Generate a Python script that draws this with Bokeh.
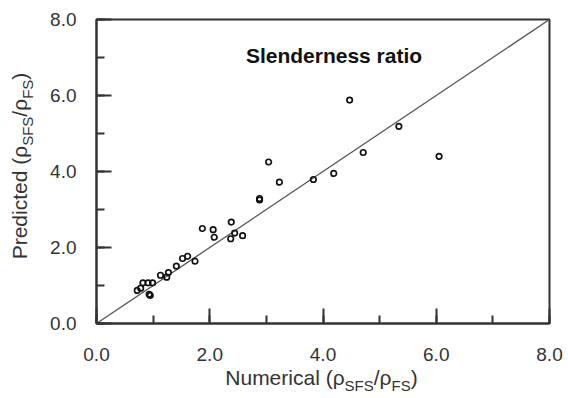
from bokeh.plotting import figure
from bokeh.models import Range1d, SingleIntervalTicker, PrintfTickFormatter, Label, Div
from bokeh.layouts import row, column
from bokeh.embed import file_html
from bokeh.resources import INLINE

# ---- data ----
numerical = [0.72, 0.78, 0.82, 0.91, 0.99, 0.93, 0.95, 1.13, 1.24, 1.27,
             1.41, 1.52, 1.61, 1.74, 1.87, 2.06, 2.08, 2.38, 2.37, 2.44,
             2.58, 2.88, 2.88, 3.04, 3.23, 3.83, 4.19, 4.71, 4.47, 5.34, 6.05]
predicted = [0.87, 0.93, 1.07, 1.07, 1.07, 0.77, 0.74, 1.27, 1.22, 1.34,
             1.51, 1.71, 1.77, 1.64, 2.50, 2.47, 2.27, 2.67, 2.23, 2.38,
             2.31, 3.29, 3.25, 4.25, 3.72, 3.79, 3.95, 4.50, 5.88, 5.19, 4.40]
diag_x = [0.0, 8.0]
diag_y = [0.0, 8.0]
axis_min, axis_max = 0.0, 8.0
title_text = "Slenderness ratio"
x_label_main = ["Numerical (ρ", "/ρ", ")"]
y_label_main = ["Predicted (ρ", "/ρ", ")"]
label_subs = ["SFS", "FS"]

FONT = "Liberation Sans"
YDIV_W = 40
L, R, T, B = 96, 19, 19, 46
FW, FH = 453, 304
P_H = T + FH + B  # 369

p = figure(frame_width=FW, frame_height=FH, output_backend="svg", toolbar_location=None,
           x_range=Range1d(axis_min, axis_max), y_range=Range1d(axis_min, axis_max),
           min_border_left=L - YDIV_W, min_border_right=R, min_border_top=T,
           min_border_bottom=B, margin=0)
p.xgrid.visible = False
p.ygrid.visible = False
p.outline_line_color = "#333333"
p.outline_line_width = 2
p.background_fill_color = "white"
p.border_fill_color = "white"

for ax in (p.xaxis[0], p.yaxis[0]):
    ax.ticker = SingleIntervalTicker(interval=2, num_minor_ticks=2)
    ax.formatter = PrintfTickFormatter(format="%.1f")
    ax.major_tick_in = 15
    ax.major_tick_out = 0
    ax.minor_tick_in = 8
    ax.minor_tick_out = 0
    ax.axis_line_color = "#333333"
    ax.axis_line_width = 2
    ax.major_tick_line_color = "#333333"
    ax.major_tick_line_width = 2
    ax.minor_tick_line_color = "#333333"
    ax.minor_tick_line_width = 2
    ax.major_label_text_font = FONT
    ax.major_label_text_font_size = "19px"
    ax.major_label_text_color = "#333333"
p.xaxis[0].major_label_standoff = 24
p.yaxis[0].major_label_standoff = 20

p.line(diag_x, diag_y, line_color="#555555", line_width=1.3)
p.scatter(numerical, predicted, marker="circle", size=5.5, fill_color=None,
          line_color="#111111", line_width=1.7)

def dx(px):
    return (px - L) / (FW / (axis_max - axis_min)) + axis_min

def dy(py):
    return (T + FH - py) / (FH / (axis_max - axis_min)) + axis_min

p.add_layout(Label(x=dx(333.5), y=dy(55), text=title_text, text_font=FONT,
                   text_font_size="21px", text_font_style="bold", text_align="center",
                   text_baseline="alphabetic", text_color="#111111"))

SUB_STYLE = "font-size:15px; vertical-align:-6px;"

def rich(main, subs):
    return (f"{main[0]}<span style='{SUB_STYLE}'>{subs[0]}</span>{main[1]}"
            f"<span style='{SUB_STYLE}'>{subs[1]}</span>{main[2]}")

BASE = f"font-family:'{FONT}'; font-size:21px; line-height:20px; color:#333333; white-space:nowrap;"

# y label: rotated, reading bottom-to-top, baseline at x~27, centred at y~166
ytext = (f"<div style='position:relative; width:{YDIV_W}px; height:{P_H}px;'>"
         f"<div style=\"position:absolute; left:10px; top:266px; width:200px; text-align:center;"
         f" transform-origin:0 0; transform:rotate(-90deg); {BASE}\">"
         f"{rich(y_label_main, label_subs)}</div></div>")
ydiv = Div(text=ytext, width=YDIV_W, height=P_H, margin=0)

# x label: baseline at y~385, centred at x~321.5
XDIV_H = 398 - P_H
xtext = (f"<div style='position:relative; width:568px; height:{XDIV_H}px;'>"
         f"<div style=\"position:absolute; left:{321.5 - 200}px; top:-1px; width:400px;"
         f" text-align:center; {BASE}\">{rich(x_label_main, label_subs)}</div></div>")
xdiv = Div(text=xtext, width=568, height=XDIV_H, margin=0)

layout = column(row(ydiv, p, spacing=0), xdiv, spacing=0)

open("out.html", "w").write(file_html(layout, INLINE))
